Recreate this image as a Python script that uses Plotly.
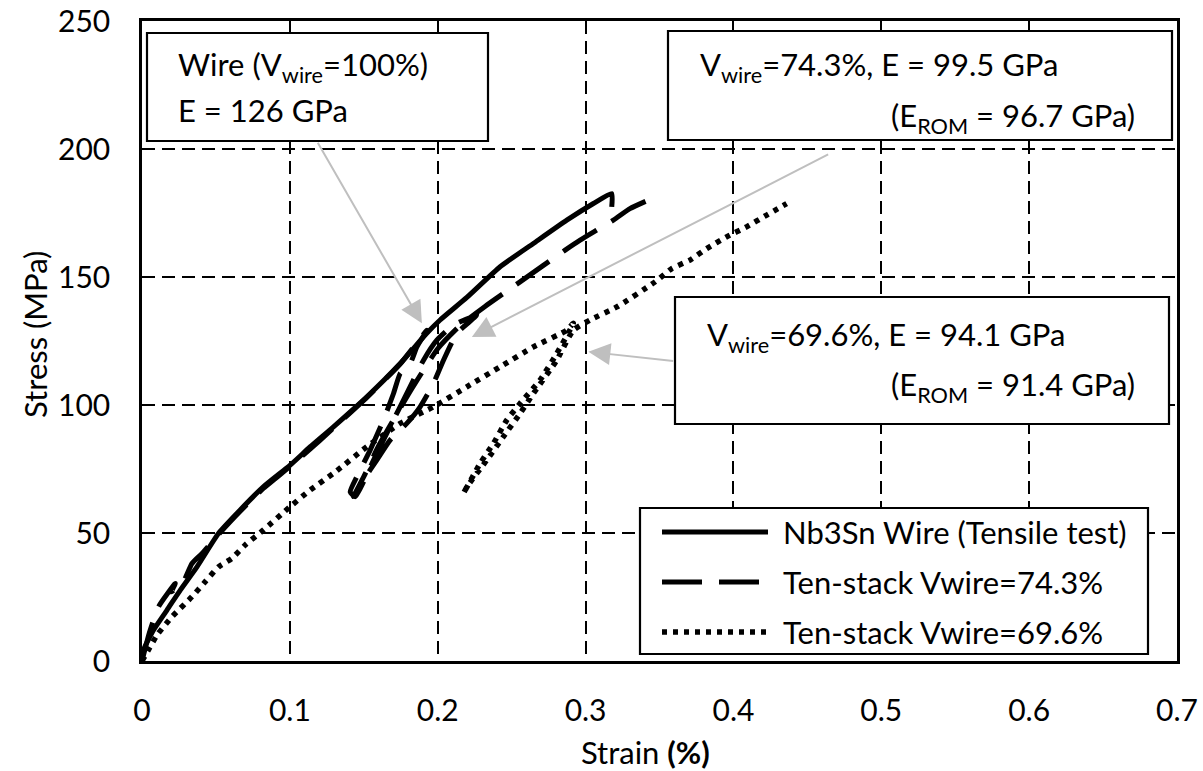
import plotly.graph_objects as go

# ---- data: strain (%) and stress (MPa) ----
wire_strain = [0, 0.001, 0.0078, 0.0169, 0.0259, 0.0372, 0.0518, 0.0664, 0.0822, 0.1002,
               0.1138, 0.1295, 0.1521, 0.1746, 0.1926, 0.2016, 0.2197, 0.2422, 0.2647,
               0.2873, 0.3053, 0.3177, 0.3177]
wire_stress = [0, 4.3, 12.1, 19.9, 27.7, 36.8, 49.9, 59.0, 68.1, 76.5,
               83.7, 91.5, 103.2, 116.2, 128.0, 133.2, 142.0, 154.0, 163.1,
               172.2, 178.7, 182.6, 177.4]

stack743_strain = [0, 0.005, 0.0112, 0.0225, 0.020, 0.028, 0.0338, 0.0406, 0.0518, 0.0664,
                   0.0822, 0.1002, 0.120, 0.1295, 0.1521, 0.1746, 0.1926,
                   0.1859, 0.1814, 0.1746, 0.1701, 0.1633, 0.1543, 0.1453, 0.1408,
                   0.1442, 0.1566, 0.1678, 0.1791, 0.1904, 0.1994, 0.2106, 0.2264,
                   0.2129, 0.2039, 0.1971, 0.1881, 0.1791, 0.1678, 0.1588, 0.1498, 0.143,
                   0.150, 0.160, 0.180, 0.200, 0.215, 0.232, 0.2557, 0.2862, 0.2963,
                   0.3188, 0.330, 0.3424]
stack743_stress = [0, 11.0, 21.2, 30.3, 27.0, 31.0, 38.1, 42.0, 49.5, 58.5,
                   67.5, 76.0, 86.0, 91.0, 103.0, 116.0, 129.2,
                   122.7, 116.2, 112.3, 104.5, 94.1, 82.4, 72.0, 66.1,
                   64.2, 78.5, 91.5, 104.5, 117.5, 125.3, 131.2, 135.1,
                   128.0, 117.5, 108.4, 99.3, 92.8, 86.3, 78.5, 70.7, 64.2,
                   72.0, 84.0, 104.0, 122.0, 131.0, 138.5, 148.1, 160.5, 164.4,
                   172.2, 176.7, 180.0]

stack696_strain = [0, 0.004, 0.010, 0.0203, 0.0338, 0.0428, 0.0518, 0.0608, 0.0698, 0.0822,
                   0.1002, 0.1138, 0.1295, 0.1521, 0.1746, 0.1971, 0.2197, 0.2422, 0.2647,
                   0.2873, 0.2917,
                   0.2805, 0.2692, 0.2557, 0.2467, 0.2377, 0.2287, 0.2174,
                   0.2197, 0.2332, 0.2444, 0.2557, 0.2647, 0.2805, 0.2917,
                   0.303, 0.3211, 0.347, 0.3583, 0.3706, 0.3819, 0.3954, 0.4089, 0.4225, 0.436]
stack696_stress = [0, 4.0, 10.0, 17.3, 25.1, 31.0, 36.8, 40.1, 45.3, 51.2,
                   60.3, 66.8, 73.3, 83.7, 92.8, 99.3, 107.1, 114.9, 122.7,
                   129.2, 131.9,
                   120.1, 109.7, 100.6, 94.1, 85.0, 77.2, 65.5,
                   68.0, 78.5, 87.6, 96.7, 104.5, 117.5, 129.2,
                   133.2, 138.3, 148.1, 153.3, 156.6, 161.1, 165.7, 169.6, 174.2, 178.7]

series_names = ["Nb3Sn Wire (Tensile test)", "Ten-stack Vwire=74.3%", "Ten-stack Vwire=69.6%"]

x_ticks = [0, 0.1, 0.2, 0.3, 0.4, 0.5, 0.6, 0.7]
x_tick_text = ["0", "0.1", "0.2", "0.3", "0.4", "0.5", "0.6", "0.7"]
y_ticks = [0, 50, 100, 150, 200, 250]

# ---- styling ----
FONT = "Lato"
FS = 31
TICK_FS = 30
styles = [
    dict(color="black", width=5),
    dict(color="black", width=5, dash="40px,17px"),
    dict(color="black", width=5.5, dash="5px,6px"),
]

W, H = 1203, 771
ML, MR, MT, MB = 142, 26, 21, 110
PW, PH = W - ML - MR, H - MT - MB


def px(x):
    return (x - ML) / PW


def py(y):
    return (H - MB - y) / PH


fig = go.Figure()
for xs, ys, name, st in zip([wire_strain, stack743_strain, stack696_strain],
                            [wire_stress, stack743_stress, stack696_stress],
                            series_names, styles):
    fig.add_trace(go.Scatter(x=xs, y=ys, mode="lines", name=name,
                             line=dict(st, shape="spline", smoothing=0.5),
                             showlegend=False))

shapes = []
annotations = []

# text boxes
for x0, y0, x1, y1 in [(147, 33, 488, 141), (668, 31, 1172, 140), (675, 297, 1169, 424)]:
    shapes.append(dict(type="rect", xref="paper", yref="paper",
                       x0=px(x0), x1=px(x1), y0=py(y1), y1=py(y0),
                       line=dict(color="black", width=2.2), fillcolor="white",
                       layer="above"))

# legend box with samples
shapes.append(dict(type="rect", xref="paper", yref="paper",
                   x0=px(640), x1=px(1148), y0=py(654), y1=py(508),
                   line=dict(color="black", width=2.2), fillcolor="white", layer="above"))
for row_y, st, name in zip([532, 582, 632], styles, series_names):
    shapes.append(dict(type="line", xref="paper", yref="paper",
                       x0=px(662), x1=px(768), y0=py(row_y), y1=py(row_y),
                       line=st, layer="above"))
    annotations.append(dict(xref="paper", yref="paper", x=px(781), y=py(row_y),
                            xanchor="left", yanchor="middle", text=name,
                            showarrow=False, font=dict(family=FONT, size=FS, color="black")))


def label(x, y, text, anchor="left"):
    annotations.append(dict(xref="paper", yref="paper", x=px(x), y=py(y),
                            xanchor=anchor, yanchor="middle", text=text,
                            showarrow=False, font=dict(family=FONT, size=FS, color="black")))


label(176, 66, "Wire (V<sub>wire</sub>=100%)")
label(176, 110, "E = 126 GPa")
label(698, 66, "V<sub>wire</sub>=74.3%, E = 99.5 GPa")
label(1137, 117, "(E<sub>ROM</sub> = 96.7 GPa)", "right")
label(705, 336, "V<sub>wire</sub>=69.6%, E = 94.1 GPa")
label(1137, 386, "(E<sub>ROM</sub> = 91.4 GPa)", "right")

# gray pointer arrows (tip, tail) in data coordinates
for (tx, ty), (sx, sy) in [((0.1893, 131.9), (0.1183, 203.0)),
                           ((0.2231, 126.6), (0.4651, 198.2)),
                           ((0.3019, 120.8), (0.3603, 117.1))]:
    annotations.append(dict(x=tx, y=ty, ax=sx, ay=sy, xref="x", yref="y",
                            axref="x", ayref="y", text="", showarrow=True,
                            arrowhead=2, arrowsize=2.2, arrowwidth=2,
                            arrowcolor="#bfbfbf", standoff=0))

# axis titles
annotations.append(dict(xref="paper", yref="paper", x=px(645), y=py(752),
                        xanchor="center", yanchor="middle",
                        text="Strain <b>(%)</b>", showarrow=False,
                        font=dict(family=FONT, size=FS, color="black")))
annotations.append(dict(xref="paper", yref="paper", x=px(35), y=py(335),
                        xanchor="center", yanchor="middle", textangle=-90,
                        text="Stress (MPa)", showarrow=False,
                        font=dict(family=FONT, size=FS, color="black")))

grid = dict(showgrid=True, gridcolor="black", gridwidth=2.3, griddash="13px,7px",
            showline=True, mirror=True, linecolor="black", linewidth=2.5,
            zeroline=False, ticks="", automargin=False,
            tickfont=dict(family=FONT, size=TICK_FS, color="black"))

fig.update_layout(
    width=W, height=H,
    margin=dict(l=ML, r=MR, t=MT, b=MB),
    paper_bgcolor="white", plot_bgcolor="white",
    shapes=shapes, annotations=annotations,
    xaxis=dict(range=[0, 0.7], tickvals=x_ticks, ticktext=x_tick_text,
               ticklabelstandoff=21, **grid),
    yaxis=dict(range=[0, 250], tickvals=y_ticks, ticklabelstandoff=23, **grid),
    showlegend=False,
)

fig.write_html("out.html")
